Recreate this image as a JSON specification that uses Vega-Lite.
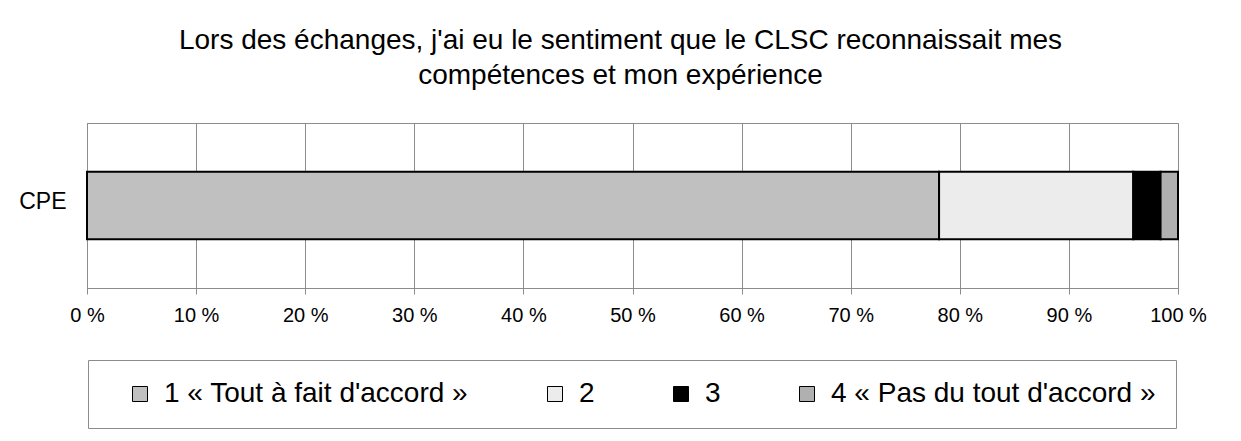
{
  "$schema": "https://vega.github.io/schema/vega-lite/v6.json",
  "autosize": {"type": "none"},
  "width": 1091,
  "height": 165,
  "padding": {"left": 87, "top": 123, "right": 63, "bottom": 153},
  "background": "white",
  "config": {
    "font": "Liberation Sans",
    "view": {"stroke": "#8c8c8c", "strokeWidth": 1}
  },
  "title": {
    "text": ["Lors des échanges, j'ai eu le sentiment que le CLSC reconnaissait mes", "compétences et mon expérience"],
    "fontSize": 28,
    "fontWeight": "normal",
    "color": "black",
    "lineHeight": 35,
    "anchor": "middle",
    "dx": -12,
    "offset": 33
  },
  "data": {
    "values": [
      {"groupe": "CPE", "reponse": "1 « Tout à fait d'accord »", "pct": 78.1, "ordre": 1},
      {"groupe": "CPE", "reponse": "2", "pct": 17.8, "ordre": 2},
      {"groupe": "CPE", "reponse": "3", "pct": 2.5, "ordre": 3},
      {"groupe": "CPE", "reponse": "4 « Pas du tout d'accord »", "pct": 1.6, "ordre": 4}
    ]
  },
  "mark": {"type": "bar", "stroke": "black", "strokeWidth": 2},
  "encoding": {
    "y": {
      "field": "groupe",
      "type": "nominal",
      "scale": {"paddingInner": 0.42, "paddingOuter": 0.42},
      "axis": {
        "title": null,
        "ticks": false,
        "labelFontSize": 23,
        "labelColor": "black",
        "labelPadding": 21,
        "labelOffset": -4,
        "domainColor": "#8c8c8c"
      }
    },
    "x": {
      "field": "pct",
      "type": "quantitative",
      "stack": "zero",
      "scale": {"domain": [0, 100], "nice": false},
      "axis": {
        "title": null,
        "values": [0, 10, 20, 30, 40, 50, 60, 70, 80, 90, 100],
        "labelExpr": "datum.value + ' %'",
        "labelFontSize": 20,
        "labelColor": "black",
        "tickSize": 6,
        "tickColor": "#8c8c8c",
        "domainColor": "#8c8c8c",
        "gridColor": "#8c8c8c",
        "gridOpacity": 1,
        "labelPadding": 11,
        "labelFlush": false
      }
    },
    "color": {
      "field": "reponse",
      "type": "nominal",
      "scale": {
        "domain": ["1 « Tout à fait d'accord »", "2", "3", "4 « Pas du tout d'accord »"],
        "range": ["#c0c0c0", "#ececec", "#000000", "#b0b0b0"]
      },
      "legend": {
        "orient": "none",
        "legendX": 1,
        "legendY": 237,
        "direction": "horizontal",
        "title": " ",
        "titleOrient": "left",
        "titlePadding": 18,
        "titleFontSize": 22,
        "symbolType": "square",
        "symbolSize": 225,
        "symbolStrokeColor": "black",
        "symbolStrokeWidth": 1,
        "symbolOpacity": 1,
        "labelFontSize": 28,
        "labelColor": "black",
        "labelOffset": 10,
        "labelLimit": 500,
        "columnPadding": 72,
        "padding": 20,
        "strokeColor": "#8c8c8c"
      }
    },
    "order": {"field": "ordre", "type": "quantitative"}
  }
}
